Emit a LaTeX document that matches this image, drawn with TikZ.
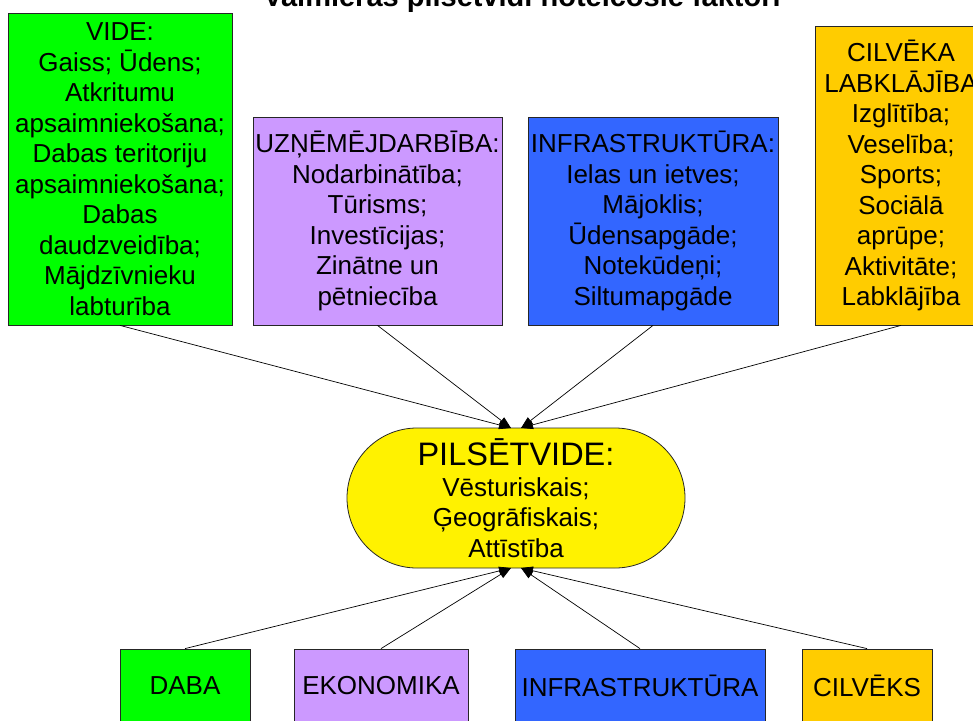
\documentclass[tikz,border=0pt]{standalone}
\usepackage{fontspec}
\setmainfont{Liberation Sans}
\usetikzlibrary{arrows.meta,shapes.misc}
\definecolor{lila}{HTML}{CC99FF}
\definecolor{zils}{HTML}{3366FF}
\definecolor{oranzs}{HTML}{FFCC00}
\begin{document}
\begin{tikzpicture}[x=1pt, y=-1pt,
            b/.style={draw=black!85, line width=0.8pt, align=center, inner sep=0pt,
            font=\fontsize{26}{30.5}\selectfont},
            a/.style={-{Triangle[length=12pt,width=8.5pt]}, line width=0.7pt}]
            \useasboundingbox (0,0) rectangle (973,720);

            \node[font=\bfseries\fontsize{29}{34}\selectfont, anchor=base] (title) at (522,6) {Valmieras pilsētvidi noteicošie faktori};

            \node[b,fill=green,minimum width=224pt,minimum height=312pt] (vide) at (120,169) {VIDE:\\Gaiss; Ūdens;\\Atkritumu\\apsaimniekošana;\\Dabas teritoriju\\apsaimniekošana;\\Dabas\\daudzveidība;\\Mājdzīvnieku\\labturība};
            \node[b,fill=lila,minimum width=249pt,minimum height=208pt] (uzn) at (377.5,221) {UZŅĒMĒJDARBĪBA:\\Nodarbinātība;\\Tūrisms;\\Investīcijas;\\Zinātne un\\pētniecība};
            \node[b,fill=zils,minimum width=250pt,minimum height=208pt] (infra) at (653,221) {INFRASTRUKTŪRA:\\Ielas un ietves;\\Mājoklis;\\Ūdensapgāde;\\Notekūdeņi;\\Siltumapgāde};
            \node[b,fill=oranzs,minimum width=172pt,minimum height=299pt] (cilv) at (901,175.5) {CILVĒKA\\LABKLĀJĪBA\\Izglītība;\\Veselība;\\Sports;\\Sociālā\\aprūpe;\\Aktivitāte;\\Labklājība};

            \node[b,rounded rectangle,fill=yellow,minimum width=338pt,minimum height=140pt] (pils) at (516,498) {{\fontsize{32.5}{30.5}\selectfont PILSĒTVIDE:}\\Vēsturiskais;\\Ģeogrāfiskais;\\Attīstība};

            \node[b,fill=green,minimum width=130pt,minimum height=74pt] (daba) at (185,686) {DABA};
            \node[b,fill=lila,minimum width=174pt,minimum height=74pt] (ekon) at (381,686) {EKONOMIKA};
            \node[b,fill=zils,minimum width=250pt,minimum height=74pt] (infrab) at (640,686) {INFRASTRUKTŪRA};
            \node[b,fill=oranzs,minimum width=130pt,minimum height=74pt] (cilvb) at (867,686) {CILVĒKS};

            \coordinate (pl) at (511,428);
            \coordinate (pr) at (521,428);
            \coordinate (ql) at (511,568);
            \coordinate (qr) at (521,568);

            \draw[a] (vide.south) to (pl);
            \draw[a] (uzn.south) to (pl);
            \draw[a] (infra.south) to (pr);
            \draw[a] (cilv.south) to (pr);

            \draw[a] (daba.north) to (ql);
            \draw[a] (ekon.north) to (ql);
            \draw[a] (infrab.north) to (qr);
            \draw[a] (cilvb.north) to (qr);
        \end{tikzpicture}
\end{document}
